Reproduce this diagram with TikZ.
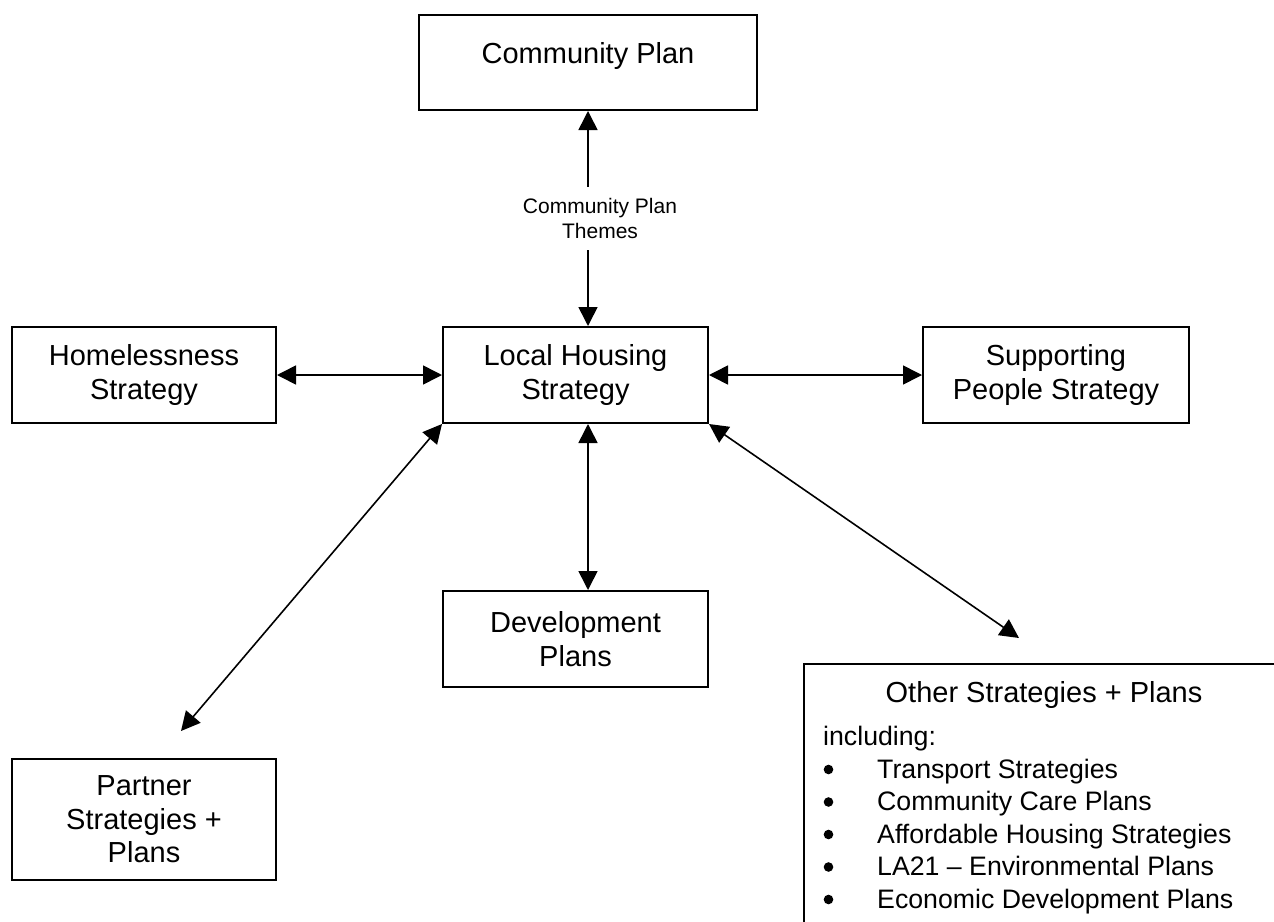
\documentclass[tikz,border=0pt]{standalone}
\usepackage{fontspec}
\setmainfont{Liberation Sans}
\usetikzlibrary{arrows.meta,calc}
% list entry indented past its bullet dot
\newcommand\bulletitem[1]{\hspace*{54pt}#1}
\begin{document}
\begin{tikzpicture}[x=1pt,y=-1pt,
  boxfont/.style={font=\fontsize{29}{33.5}\selectfont},
  panel/.style={draw, line width=2pt, rectangle, inner sep=0pt, align=center, boxfont},
  link/.style={line width=1.6pt,
    {Triangle[length=19pt,width=19pt]}-{Triangle[length=19pt,width=19pt]}},
  themefont/.style={font=\fontsize{21}{24.5}\selectfont},
  listfont/.style={font=\fontsize{26.7}{32.5}\selectfont}]
\useasboundingbox[fill=white] (0,0) rectangle (1274,921);

% boxes
\node[panel, minimum width=338pt, minimum height=95pt] (cp)  at (588,62.5)
  {\raisebox{6pt}[\height][\depth]{Community Plan}};
\node[panel, minimum width=265pt, minimum height=96pt] (lhs) at (575.5,375) {Local Housing\\Strategy};
\node[panel, minimum width=264pt, minimum height=96pt] (hom) at (144,375)   {Homelessness\\Strategy};
\node[panel, minimum width=266pt, minimum height=96pt] (sps) at (1056,375)  {Supporting\\People Strategy};
\node[panel, minimum width=265pt, minimum height=96pt] (dev) at (575.5,639) {Development\\Plans};
\node[panel, minimum width=264pt, minimum height=121pt] (par) at (144,819.5) {Partner\\Strategies +\\Plans};

% the large box running off the page edge
\node[draw, line width=2pt, anchor=north west, minimum width=482pt,
      minimum height=275pt, inner sep=0pt] (oth) at (803,663) {};
\node[anchor=base, boxfont, inner sep=0pt] (othhead) at (1044,702) {Other Strategies + Plans};
\node[anchor=north west, align=left, inner sep=0pt, listfont] (othlist) at (823,726)
  {including:\\
   \bulletitem{Transport Strategies}\\
   \bulletitem{Community Care Plans}\\
   \bulletitem{Affordable Housing Strategies}\\
   \bulletitem{LA21 – Environmental Plans}\\
   \bulletitem{Economic Development Plans}};
% bullet dots of the list
\foreach \k in {0,...,4}
  \fill ([xshift=5.5pt]othlist.north west) ++(0,43.5+32.5*\k) circle (4.8pt);

% free ends of the diagonal links
\coordinate (pend) at (181,731);
\coordinate (oend) at (1019,638);

% links
\draw[link] (hom.east) -- (lhs.west);
\draw[link] (lhs.east) -- (sps.west);
\draw[link] ([xshift=12.5pt]lhs.south) -- ([xshift=12.5pt]dev.north);
\draw[link] ([xshift=12.5pt]lhs.north) --
  node[fill=white, inner xsep=2pt, inner ysep=12pt, xshift=12pt, align=center, themefont] (themes)
  {Community Plan\\Themes} (cp.south);
\draw[link] (lhs.south west) -- (pend);
\draw[link] (lhs.south east) -- (oend);
\end{tikzpicture}
\end{document}
